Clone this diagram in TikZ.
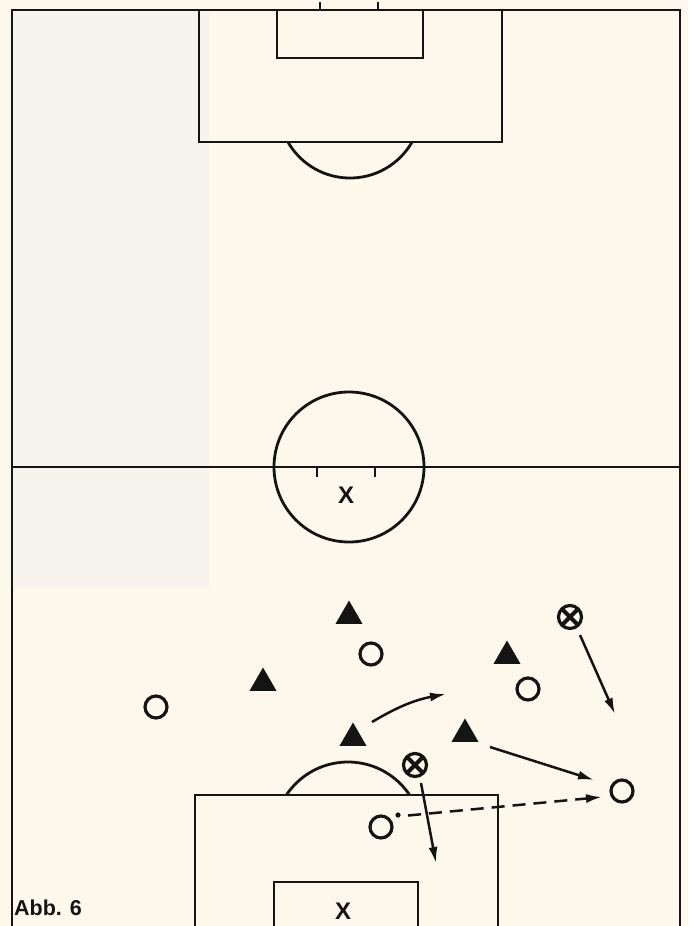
\documentclass[tikz,border=0pt]{standalone}
\usepackage{fontspec}
\setmainfont{Liberation Sans}
\usetikzlibrary{arrows.meta,shapes.geometric}
\definecolor{paper}{HTML}{FCF8EC}
\definecolor{paperleft}{HTML}{F6F4ED}
\definecolor{ink}{HTML}{141414}
\begin{document}
\begin{tikzpicture}[x=1pt,y=-1pt,
  fieldline/.style={draw=ink,line width=2.8pt},
  tri/.style={regular polygon,regular polygon sides=3,fill=ink,draw=none,inner sep=0pt,minimum size=31pt},
  opp/.style={circle,draw=ink,line width=3.2pt,fill=none,inner sep=0pt,minimum size=22pt},
  xopp/.style={circle,draw=ink,line width=3.2pt,inner sep=0pt,minimum size=23pt,
    path picture={\draw[ink,line width=4pt] (path picture bounding box.south west) -- (path picture bounding box.north east)
      (path picture bounding box.north west) -- (path picture bounding box.south east);}},
  run/.style={draw=ink,line width=2.5pt,-{Latex[length=16pt,width=9pt]}},
  pass/.style={run,dash pattern=on 13pt off 8pt},
  xmark/.style={font=\bfseries\fontsize{24}{24}\selectfont,text=ink,inner sep=0pt},
  caption/.style={font=\bfseries\fontsize{21.5}{21.5}\selectfont,text=ink,inner sep=0pt,anchor=base west}
]
\useasboundingbox (0,0) rectangle (688,926);
\fill[paper] (0,0) rectangle (688,926);
\fill[paperleft] (14,12) rectangle (209,588);

% outer field and halfway line
\path[fieldline] (12,926) -- (12,10) -- (680,10) -- (680,926);
\path[fieldline] (12,467) -- (680,467);
\path[fieldline] (349,467) circle[radius=75];
\path[fieldline,line width=2pt] (317,467) -- (317,477) (375,467) -- (375,477);
\node[xmark] (kick) at (346,495) {X};

% top goal area
\path[fieldline,line width=2pt] (320,2) -- (320,10) (378,2) -- (378,10);
\path[fieldline] (199,10) rectangle (502,142);
\path[fieldline] (277,10) rectangle (423,58);
\begin{scope}
  \clip (0,142) rectangle (688,200);
  \path[fieldline] (350,106.5) circle[radius=71.5];
\end{scope}

% bottom goal area
\path[fieldline] (195,926) -- (195,795) -- (498,795) -- (498,926);
\path[fieldline] (274,926) -- (274,882) -- (418,882) -- (418,926);
\begin{scope}
  \clip (0,700) rectangle (688,795);
  \path[fieldline] (348,836) circle[radius=74];
\end{scope}
\node[xmark] (goalx) at (343,911) {X};

% players: triangles
\node[tri] (t1) at (349,616) {};
\node[tri] (t2) at (263,683) {};
\node[tri] (t3) at (353,738) {};
\node[tri] (t4) at (507,656) {};
\node[tri] (t5) at (465,734) {};

% players: open circles
\node[opp] (o1) at (371,654) {};
\node[opp] (o2) at (156,707) {};
\node[opp] (o3) at (528,689) {};
\node[opp] (o4) at (622,791) {};
\node[opp] (o5) at (381,827) {};

% crossed circles
\node[xopp] (x1) at (570,617) {};
\node[xopp] (x2) at (415,765) {};

% arrow end points
\coordinate (a1s) at (372,722);
\coordinate (a1e) at (446,694);
\coordinate (a2s) at (580,635);
\coordinate (a2e) at (615,714);
\coordinate (a3s) at (490,747);
\coordinate (a3e) at (594,780);
\coordinate (a4s) at (421,783);
\coordinate (a4e) at (436,863);
\coordinate (a5s) at (408,815.5);
\coordinate (a5e) at (602,797);

\path[run] (a1s) to[bend left=10] (a1e);
\path[run] (a2s) -- (a2e);
\path[run] (a3s) -- (a3e);
\path[run] (a4s) -- (a4e);
\fill[ink] (398,815) circle[radius=2.6];
\path[pass] (a5s) -- (a5e);

\node[caption] (cap) at (14,915) {Abb. 6};
\end{tikzpicture}
\end{document}
